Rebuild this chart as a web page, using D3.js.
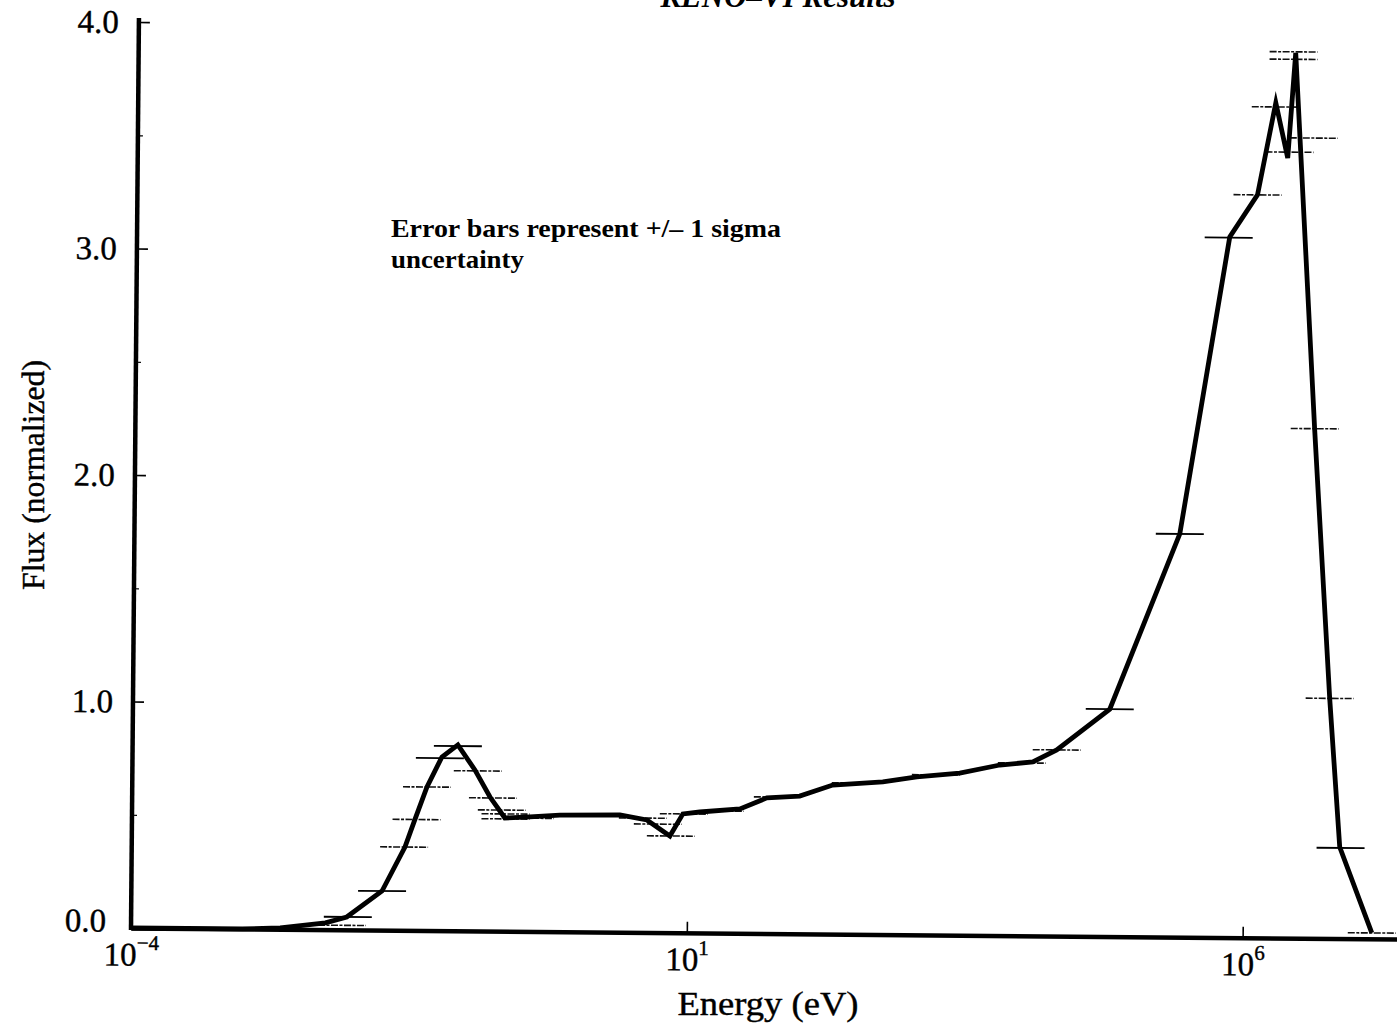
<!DOCTYPE html>
<html>
<head>
<meta charset="utf-8">
<script src="https://cdn.jsdelivr.net/npm/d3@7"></script>
<style>
  body { margin: 0; background: #fff; }
  svg { display: block; font-family: "Liberation Serif", "DejaVu Serif", serif; }
</style>
</head>
<body>
<div id="chart"></div>
<script>

// flux curve (energy in eV, normalized flux)
var energy = [1.0e-4, 1.0e-3, 2.2e-3, 5.6e-3, 8.7e-3, 1.8e-2, 2.87e-2, 3.5e-2, 4.48e-2, 6.07e-2,
              8.43e-2, 0.1205, 0.1656, 0.226, 0.379, 0.706, 2.45, 4.28, 6.92, 9.02,
              12.8, 29.4, 51.2, 101, 200, 564, 1140, 2770, 6340, 12560,
              20560, 61240, 2.53e5, 6.75e5, 1.19e6, 1.71e6, 2.21e6, 2.56e6, 4.06e6, 5.81e6,
              7.35e6, 1.45e7];
var flux = [0.0, 0.0, 0.006, 0.030, 0.057, 0.173, 0.368, 0.488, 0.634, 0.767,
            0.821, 0.711, 0.592, 0.500, 0.506, 0.515, 0.518, 0.497, 0.427, 0.525,
            0.534, 0.549, 0.599, 0.608, 0.658, 0.674, 0.697, 0.716, 0.753, 0.768,
            0.822, 1.004, 1.780, 3.093, 3.280, 3.687, 3.444, 3.908, 2.244, 1.062,
            0.404, 0.026];

// +/- 1 sigma bars that print as solid lines
var solidBarEnergy = [8.9e-3, 1.8e-2, 5.82e-2, 8.43e-2, 61240, 2.53e5, 6.6e5, 7.48e6];
var solidBarFlux   = [0.057, 0.173, 0.762, 0.816, 1.004, 1.780, 3.090, 0.400];

// +/- 1 sigma bars that print faint / broken
var faintBarEnergy = [7.9e-3, 2.82e-2, 3.63e-2, 4.48e-2, 0.128, 0.176, 0.212, 0.229, 0.229, 0.38,
                      3.94, 5.38, 7.06, 9.2, 19.4, 64.3, 322, 1690, 1.0e4, 20560,
                      1.19e6, 1.71e6, 2.29e6, 2.45e6, 2.45e6, 3.78e6, 4.06e6, 5.81e6, 1.45e7];
var faintBarFlux   = [0.020, 0.368, 0.490, 0.634, 0.707, 0.588, 0.535, 0.518, 0.496, 0.500,
                      0.505, 0.479, 0.427, 0.525, 0.539, 0.603, 0.668, 0.707, 0.763, 0.822,
                      3.280, 3.669, 3.470, 3.913, 3.880, 3.533, 2.250, 1.060, 0.026];

var yTicks = [0, 1, 2, 3, 4];
var yMinorTicks = [0.5, 1.5, 2.5, 3.5];
var xTicks = [1e-4, 1e1, 1e6];
var xTickExp = ["\u22124", "1", "6"];

var width = 1397, height = 1029;
var margin = { top: 22, left: 131 };
var plotW = 1334, plotH = 906;
var barHalf = 24;

var svg = d3.select("#chart").append("svg")
    .attr("width", width)
    .attr("height", height);

svg.append("rect").attr("width", width).attr("height", height).attr("fill", "#fff");

// scanned page is turned a little, so the whole plot is tilted
var g = svg.append("g")
    .attr("transform", "rotate(0.5," + margin.left + "," + (margin.top + plotH) + ") translate(" + margin.left + "," + margin.top + ")");

var x = d3.scaleLog().domain([1e-4, 1e8]).range([0, plotW]);
var y = d3.scaleLinear().domain([0, 4]).range([plotH, 0]);

// y axis
var yAxis = g.append("g")
    .call(d3.axisLeft(y).tickValues(yTicks).tickSizeInner(-11).tickSizeOuter(0)
        .tickPadding(20).tickFormat(d3.format(".1f")));
yAxis.select(".domain").attr("stroke-width", 4.5).attr("d", "M0," + (plotH + 2) + "V-4");
yAxis.selectAll(".tick line").attr("stroke-width", 1.6);
yAxis.selectAll(".tick text").attr("font-size", 33).attr("font-family", "Liberation Serif")
    .attr("fill", "#000").attr("stroke", "#000").attr("stroke-width", 0.4);
yAxis.selectAll(".tick text").filter(function(d) { return d === 0; }).attr("x", -25).attr("dy", "0.1em");

g.append("g")
    .call(d3.axisLeft(y).tickValues(yMinorTicks).tickSizeInner(-5).tickSizeOuter(0).tickFormat(""))
    .call(function(a) { a.select(".domain").remove(); })
    .selectAll(".tick line").attr("stroke-width", 1.2);

// x axis
var xAxis = g.append("g")
    .attr("transform", "translate(0," + plotH + ")")
    .call(d3.axisBottom(x).tickValues(xTicks).tickSizeInner(-11).tickSizeOuter(0).tickPadding(8));
xAxis.select(".domain").attr("stroke-width", 4.5);
xAxis.selectAll(".tick line").attr("stroke-width", 1.6);
xAxis.selectAll(".tick text").each(function(d, i) {
    var t = d3.select(this).text("").attr("font-size", 33).attr("font-family", "Liberation Serif")
        .attr("fill", "#000").attr("stroke", "#000").attr("stroke-width", 0.4)
        .attr("dy", "0.9em");
    t.append("tspan").text("10");
    t.append("tspan").attr("font-size", 21).attr("dy", "-0.75em").text(xTickExp[i]);
});

// error bars
var solidBars = d3.range(solidBarEnergy.length);
g.selectAll(".sbar").data(solidBars).enter().append("line")
    .attr("class", "sbar")
    .attr("x1", function(i) { return x(solidBarEnergy[i]) - barHalf; })
    .attr("x2", function(i) { return x(solidBarEnergy[i]) + barHalf; })
    .attr("y1", function(i) { return y(solidBarFlux[i]); })
    .attr("y2", function(i) { return y(solidBarFlux[i]); })
    .attr("stroke", "#000")
    .attr("stroke-width", 1.8);

var faintBars = d3.range(faintBarEnergy.length);
g.selectAll(".fbar").data(faintBars).enter().append("line")
    .attr("class", "fbar")
    .attr("x1", function(i) { return x(faintBarEnergy[i]) - barHalf; })
    .attr("x2", function(i) { return x(faintBarEnergy[i]) + barHalf; })
    .attr("y1", function(i) { return y(faintBarFlux[i]); })
    .attr("y2", function(i) { return y(faintBarFlux[i]); })
    .attr("stroke", "#111")
    .attr("stroke-width", 1.6)
    .attr("stroke-dasharray", "7,1.5,3,1.5");

// flux curve
var line = d3.line()
    .x(function(i) { return x(energy[i]); })
    .y(function(i) { return y(flux[i]); });

g.append("path")
    .datum(d3.range(energy.length))
    .attr("d", line)
    .attr("fill", "none")
    .attr("stroke", "#000")
    .attr("stroke-width", 4.8)
    .attr("stroke-linejoin", "miter")
    .attr("stroke-miterlimit", 6);

// texts
svg.append("text")
    .attr("x", 778).attr("y", 7)
    .attr("text-anchor", "middle")
    .attr("font-size", 31)
    .attr("font-style", "italic")
    .attr("font-weight", "bold")
    .text("KENO\u2013VI Results");

svg.append("text")
    .attr("x", 391).attr("y", 237)
    .attr("font-size", 26)
    .attr("font-weight", "bold")
    .attr("textLength", 390)
    .attr("lengthAdjust", "spacingAndGlyphs")
    .text("Error bars represent +/\u2013 1 sigma");
svg.append("text")
    .attr("x", 391).attr("y", 268)
    .attr("font-size", 26)
    .attr("font-weight", "bold")
    .attr("textLength", 133)
    .attr("lengthAdjust", "spacingAndGlyphs")
    .text("uncertainty");

svg.append("text")
    .attr("transform", "translate(44,475) rotate(-90)")
    .attr("text-anchor", "middle")
    .attr("font-size", 31)
    .attr("textLength", 230)
    .attr("lengthAdjust", "spacingAndGlyphs")
    .attr("stroke", "#000").attr("stroke-width", 0.4)
    .text("Flux (normalized)");

svg.append("text")
    .attr("x", 768).attr("y", 1015)
    .attr("text-anchor", "middle")
    .attr("font-size", 33)
    .attr("textLength", 181)
    .attr("lengthAdjust", "spacingAndGlyphs")
    .attr("stroke", "#000").attr("stroke-width", 0.4)
    .text("Energy (eV)");

</script>
</body>
</html>
